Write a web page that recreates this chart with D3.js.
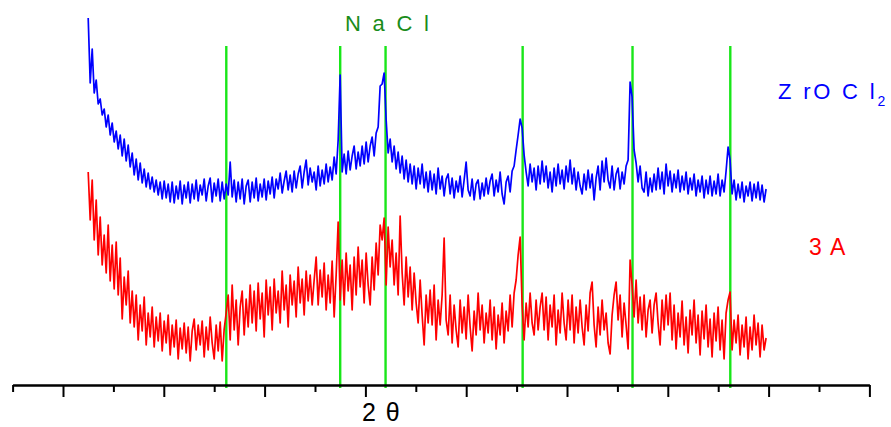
<!DOCTYPE html>
<html>
<head>
<meta charset="utf-8">
<script src="https://cdn.jsdelivr.net/npm/d3@7/dist/d3.min.js"></script>
<style>
  html, body { margin: 0; padding: 0; background: #fff; }
  svg { display: block; }
  text { font-family: "Liberation Sans", Arial, sans-serif; }
</style>
</head>
<body>
<svg id="chart" width="891" height="427"></svg>
<script>
// XRD scan: 2θ from 2.5° to 69.75°, one reading per step (arbitrary intensity units)
const scanStart = 2.5;
const scanEnd = 69.75;

// ZrOCl2 pattern (plotted with its vertical offset included)
const zrocl2 = [
  367,302,336,292,305,281,286,270,276,258, 270,250,262,243,254,236,250,229,246,224,
  240,218,232,210,226,205,222,202,216,198, 212,196,208,193,205,190,203,186,204,187,
  201,183,203,182,199,186,204,181,200,187, 203,182,201,186,205,184,200,190,206,184,
  199,207,183,202,189,206,184,203,186,201, 190,223,188,205,183,203,186,206,181,199,
  205,183,203,187,207,184,201,188,206,185, 204,191,208,187,206,196,212,192,204,214,
  195,210,193,214,197,211,219,197,213,225, 200,217,203,213,195,219,199,215,201,221,
  203,218,205,228,211,245,310,213,231,211, 234,215,229,239,216,233,219,239,221,243,
  223,239,248,229,252,258,299,301,312,265, 232,246,223,239,216,233,212,229,206,225,
  203,221,201,219,196,217,201,221,197,213, 193,214,195,211,191,217,196,209,189,206,
  211,191,207,187,204,193,209,188,205,223, 195,189,206,185,201,205,186,202,189,207,
  191,204,211,189,205,193,213,191,181,203, 209,193,214,219,235,250,266,257,230,213,
  199,221,203,217,195,219,201,224,203,219, 197,213,193,217,199,221,201,215,196,219,
  203,225,201,217,195,213,199,191,211,195, 215,197,211,185,207,219,195,224,203,227,
  205,197,219,195,211,217,196,213,201,219, 225,303,288,235,222,203,219,197,193,213,
  189,207,193,211,195,217,196,213,191,221, 199,214,193,211,197,215,193,209,195,213,
  191,207,195,211,189,205,193,209,187,205, 191,209,189,204,191,211,189,205,193,214,
  238,225,191,205,185,201,187,203,183,199, 189,203,184,201,187,203,185,200,183,196
];

// 3A pattern
const sample3A = [
  213,165,205,145,185,130,168,120,150,112, 160,104,140, 96,143, 90,127, 66,108, 80,
  114, 62, 94, 58, 90, 45, 80, 54, 88, 40,  72, 48, 78, 38, 68, 44, 72, 34, 64, 42,
   70, 30, 60, 38, 65, 26, 57, 36, 62, 32,  58, 24, 54, 66, 35, 60, 40, 64, 28, 58,
   35, 68, 42, 26, 60, 34, 63, 24, 56, 72,  90, 45,100, 55, 85, 40, 78, 94, 50, 86,
   58,100, 62, 94, 54,102, 66, 92, 48,105,  70, 98, 55,106, 72, 94, 62,114, 75,100,
   58,110, 80,104, 68,118, 82,106, 70,114,  84,110, 80,105,128, 80,115, 88,122, 75,
  110, 82,124, 68,110,163, 85,125, 80,132,  94,120, 75,128, 90,138, 98,125, 82,132,
  100, 80,128, 95,142,110,160,145,167,100, 158,118,145,100,132, 90,169,112, 80,128,
   88,118, 75,112, 82, 62,105, 70, 40, 90,  62, 95, 60,100, 45, 85, 60, 90,147, 65,
   50, 90, 42, 80, 55, 38, 85, 52, 78, 46,  90, 58, 34, 74, 50, 92, 55, 80, 42, 72,
   52, 85, 45, 78, 36, 70, 50, 82, 42, 74,  54, 90, 58, 92,105,130,148, 80, 45, 82,
   58, 92, 62, 50, 85, 55, 78, 92, 55, 88,  45, 80, 58, 90, 40, 75, 52, 92, 62, 45,
   85, 55, 90, 42, 78, 52, 85, 58, 40, 80,  54, 92,103, 60, 38, 78, 50, 85, 55, 72,
   42, 31, 70, 90,103, 65, 90, 48, 82, 60,  36,125,100, 68,105, 62, 88, 55, 90, 48,
   75, 85, 52, 80, 92, 62, 40, 85, 55, 90,  60, 92, 45, 80, 36, 72, 48, 84, 40, 68,
   32, 75, 50, 85, 42, 70, 30, 74, 46, 80,  38, 66, 28, 72, 44, 78, 35, 65, 26, 72,
   85, 93, 35, 65, 42, 70, 30, 60, 38, 68,  26, 58, 35, 70, 40, 62, 28, 60, 35, 47
];

// NaCl reference reflections (2θ, degrees)
const naclPeaks = [16.2, 27.5, 32.0, 45.6, 56.5, 66.2];
const naclTop = 339;

// axis ticks (2θ, degrees)
const majorTicks = [0, 10, 20, 30, 40, 50, 60, 70, 80];
const minorTicks = [-5, 5, 15, 25, 35, 45, 55, 65, 75];

const svg = d3.select("#chart");

const x = d3.scaleLinear().domain([-5, 80]).range([12.6, 869.4]);
const y = d3.scaleLinear().domain([0, 370]).range([385, 15]);

const step = (scanEnd - scanStart) / (zrocl2.length - 1);
const toPoints = arr => arr.map((v, i) => [scanStart + i * step, v]);

const line = d3.line().x(d => x(d[0])).y(d => y(d[1]));

// NaCl reference lines
svg.append("g").selectAll("line")
  .data(naclPeaks)
  .join("line")
  .attr("x1", d => x(d)).attr("x2", d => x(d))
  .attr("y1", y(naclTop)).attr("y2", y(0) + 3)
  .attr("stroke", "#19e619")
  .attr("stroke-width", 2.4);

// patterns
svg.append("path")
  .datum(toPoints(sample3A))
  .attr("fill", "none")
  .attr("stroke", "#ff0000")
  .attr("stroke-width", 1.7)
  .attr("stroke-linejoin", "round")
  .attr("d", line);

svg.append("path")
  .datum(toPoints(zrocl2))
  .attr("fill", "none")
  .attr("stroke", "#0000ff")
  .attr("stroke-width", 1.7)
  .attr("stroke-linejoin", "round")
  .attr("d", line);

// bottom axis: major and minor ticks, no labels
const axisMajor = d3.axisBottom(x).tickValues(majorTicks).tickSize(12).tickSizeOuter(0).tickFormat("");
const axisMinor = d3.axisBottom(x).tickValues(minorTicks).tickSize(7).tickSizeOuter(0).tickFormat("");

const gMinor = svg.append("g").attr("transform", `translate(0,${y(0)})`).call(axisMinor);
const gMajor = svg.append("g").attr("transform", `translate(0,${y(0)})`).call(axisMajor);
[gMinor, gMajor].forEach(g => {
  g.selectAll("path.domain").attr("stroke", "#000").attr("stroke-width", 2);
  g.selectAll(".tick line").attr("stroke", "#000").attr("stroke-width", 2);
});

// axis title
svg.append("text")
  .attr("x", 362).attr("y", 421)
  .attr("font-size", 25)
  .attr("fill", "#000")
  .attr("letter-spacing", 1.5)
  .text("2 θ");

// labels
svg.append("text")
  .attr("x", 345).attr("y", 31)
  .attr("font-size", 22)
  .attr("fill", "#1a8c1a")
  .attr("textLength", 84)
  .attr("lengthAdjust", "spacing")
  .text("N a C l");

const zr = svg.append("text")
  .attr("x", 778).attr("y", 99)
  .attr("font-size", 22)
  .attr("fill", "#0000ff")
  .attr("letter-spacing", 2.8);
zr.append("tspan").text("Z rO C l");
zr.append("tspan").attr("font-size", 14).attr("dy", 7).attr("letter-spacing", 0).text("2");

svg.append("text")
  .attr("x", 809).attr("y", 255)
  .attr("font-size", 23)
  .attr("fill", "#ff0000")
  .attr("letter-spacing", 1.5)
  .text("3 A");
</script>
</body>
</html>
